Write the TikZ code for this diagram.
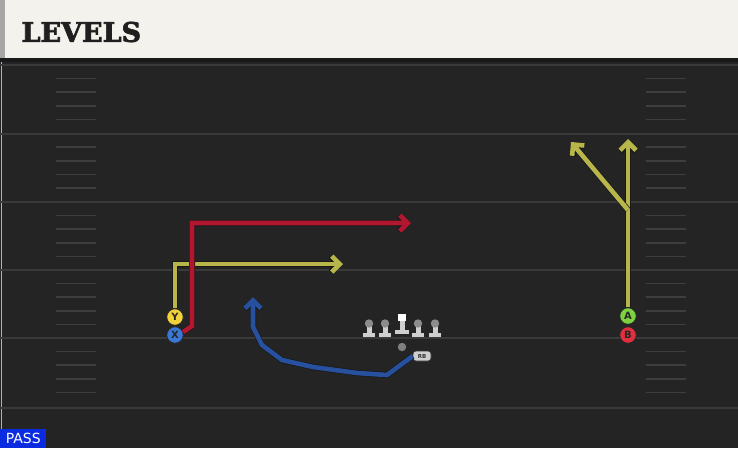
\documentclass[tikz,border=0pt]{standalone}
\usepackage{fontspec}
\setmainfont{DejaVu Sans}
\newfontfamily\titlefont{DejaVu Serif}[BoldFont={DejaVu Serif Bold},BoldFeatures={FakeBold=2.5}]
\usetikzlibrary{arrows.meta}
\definecolor{turf}{HTML}{242424}
\definecolor{yardline}{HTML}{3A3A3A}
\definecolor{hashline}{HTML}{3E3E3E}
\definecolor{cream}{HTML}{F4F2EC}
\definecolor{olive}{HTML}{B8B64A}
\definecolor{crimson}{HTML}{B3162F}
\definecolor{navy}{HTML}{27509E}
\definecolor{ycol}{HTML}{F2D03A}
\definecolor{xcol}{HTML}{3B78D6}
\definecolor{acol}{HTML}{7ED23F}
\definecolor{bcol}{HTML}{E0303E}
\definecolor{lineman}{HTML}{CFCFCF}
\definecolor{passblue}{HTML}{0B2BE0}
\begin{document}
\begin{tikzpicture}[x=1pt,y=-1pt,
  player/.style={circle,draw=black!85,line width=0.8pt,minimum size=16.5pt,inner sep=0pt,
    font=\bfseries\fontsize{10}{10}\selectfont,text=black!85},
  route/.style={line width=4.6pt,draw=#1,line join=miter,
    -{Straight Barb[length=8pt,width=16pt]},
    preaction={draw=black!90,line width=6pt}}]
  % frame
  \useasboundingbox (0,0) rectangle (738,448);
  \fill [turf] (0,60) rectangle (738,448);
  \fill [cream] (0,0) rectangle (738,58);
  \fill [black!35] (0,0) rectangle (5,58);
  \fill [black!90] (0,58) rectangle (738,62);
  \draw [black!30,line width=1pt] (1.5,62) -- (1.5,448);
  \node [anchor=west,font=\titlefont\bfseries\fontsize{27}{27}\selectfont,text=black!88] (title) at (18,32) {LEVELS};
  % yard lines and hashes
  \foreach \yl in {65,133.5,202,270,338,408}
    \draw [yardline,line width=2pt] (0,\yl) -- (738,\yl);
  \foreach \yl in {65,133.5,202,270,338} {
    \foreach \k in {1,2,3,4} {
      \draw [hashline,line width=1.6pt] (56,\yl+13.6*\k) -- (96,\yl+13.6*\k);
      \draw [hashline,line width=1.6pt] (646,\yl+13.6*\k) -- (686,\yl+13.6*\k);
    }
  }
  % offensive line
  \foreach \lx in {369,385,418,435} {
    \fill [lineman] (\lx-6,333) rectangle (\lx+6,337);
    \fill [lineman] (\lx-2.5,326) rectangle (\lx+2.5,333);
    \fill [black!45] (\lx,323.5) circle (4.2);
  }
  \fill [lineman] (395,330) rectangle (409,334);
  \fill [lineman] (399.5,321) rectangle (404.5,330);
  \fill [white] (398,314) rectangle (406,321);
  \fill [black!50] (402,347) circle (4.2);
  \node [fill=lineman,rounded corners=3pt,draw=black!80,line width=0.6pt,minimum width=18pt,minimum height=10pt,inner sep=0pt,
    font=\bfseries\fontsize{5.5}{5.5}\selectfont,text=black!80] (rb) at (422,356) {RB};
  % receivers
  \node [player,fill=ycol] (Y) at (175,317) {Y};
  \node [player,fill=xcol] (X) at (175,335) {X};
  \node [player,fill=acol] (A) at (628,316) {A};
  \node [player,fill=bcol] (B) at (628,335) {B};
  % routes
  \coordinate (ycut) at (175,264);
  \coordinate (yend) at (343,264);
  \draw [route=olive] (Y.north) -- (ycut) -- (yend);
  \coordinate (xbend) at (192,326);
  \coordinate (xend) at (411,223);
  \draw [route=crimson] (X.20) -- (xbend) |- (xend);
  \coordinate (rbend) at (253,297);
  \draw [route=navy] (rb.west) -- (387,375) -- (357,373) -- (313,367) -- (282,360) -- (262,345) -- (253,327) -- (rbend);
  \coordinate (brk) at (628,210);
  \coordinate (aend) at (628,139);
  \coordinate (bend) at (571,142);
  \draw [route=olive] (A.north) -- (aend);
  \draw [route=olive] (brk) -- (bend);
  % play type
  \node [anchor=south west,fill=passblue,text=white,minimum width=46pt,minimum height=19pt,inner sep=0pt,
    font=\fontsize{14}{14}\selectfont] (pass) at (0,448) {PASS};
\end{tikzpicture}
\end{document}
